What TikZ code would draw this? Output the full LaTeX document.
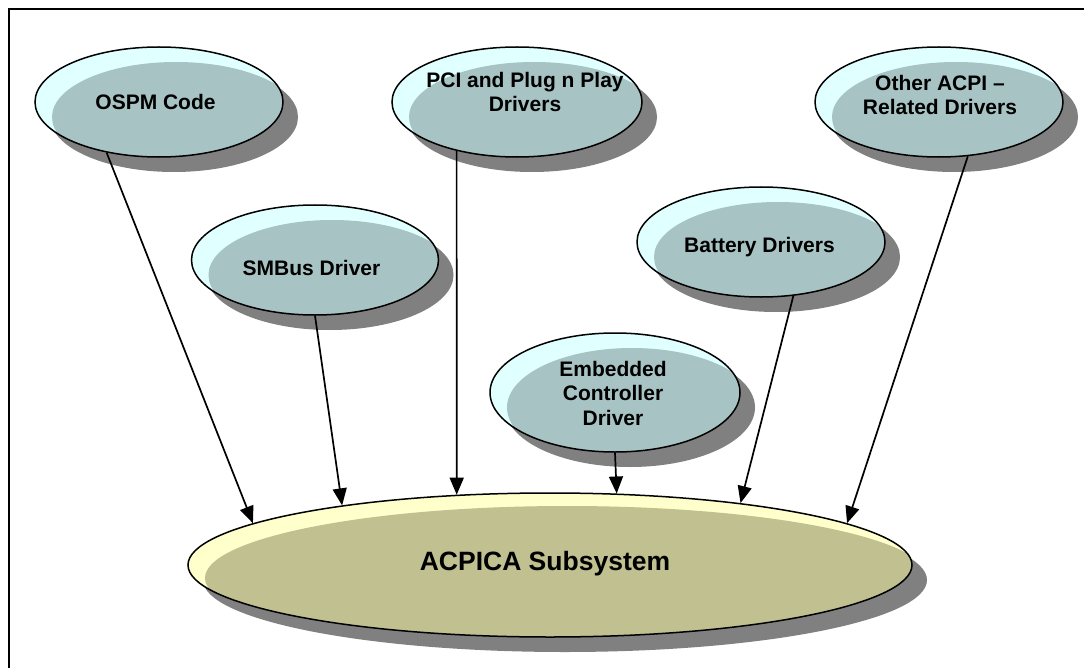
\documentclass[tikz,border=0pt]{standalone}
\usepackage{fontspec}
\setmainfont{Liberation Sans}
\usetikzlibrary{shapes.geometric,shadows,arrows.meta}
\definecolor{cyanl}{RGB}{224,255,255}
\definecolor{tealin}{RGB}{167,195,195}
\definecolor{shad}{RGB}{128,128,128}
\definecolor{yell}{RGB}{255,255,204}
\definecolor{olivein}{RGB}{192,192,144}
\begin{document}
\begin{tikzpicture}[x=1bp,y=-1bp,
  bub/.style 2 args={ellipse, draw=black, line width=1.5bp, inner sep=0pt,
    minimum width=#1, minimum height=#2, fill=cyanl,
    drop shadow={shadow xshift=15bp, shadow yshift=-15bp, fill=shad, draw=none, opacity=1},
    path picture={\fill[tealin] ([xshift=17bp,yshift=-15bp]path picture bounding box.center)
      ellipse [x radius=#1/2, y radius=#2/2];}},
  basebub/.style 2 args={ellipse, draw=black, line width=1.5bp, inner sep=0pt,
    minimum width=#1, minimum height=#2, fill=yell,
    drop shadow={shadow xshift=15bp, shadow yshift=-15bp, fill=shad, draw=none, opacity=1},
    path picture={\fill[olivein] ([xshift=17bp,yshift=-13bp]path picture bounding box.center)
      ellipse [x radius=#1/2, y radius=#2/2];}},
  txt/.style={font=\fontsize{21bp}{24.5bp}\selectfont\bfseries, align=center, inner sep=0pt, anchor=base},
  bigtxt/.style={font=\fontsize{26.5bp}{30bp}\selectfont\bfseries, inner sep=0pt, anchor=base},
  conn/.style={line width=1.7bp, -{Triangle[length=17bp,width=14bp]}},
  frame/.style={line width=2.4bp}
]
\useasboundingbox (0,0) rectangle (1084,668);
\fill[white] (0,0) rectangle (1084,668);
\draw[frame] (9,700) -- (9,9) -- (1100,9);

\node[bub={248bp}{110bp}] (ospm) at (159,102) {};
\node[bub={250bp}{110bp}] (pci) at (517,102) {};
\node[bub={248bp}{110bp}] (other) at (939,102) {};
\node[bub={247bp}{110bp}] (smbus) at (315,260) {};
\node[bub={248bp}{110bp}] (battery) at (761,242) {};
\node[bub={250bp}{119bp}] (embedded) at (615,392.5) {};
\node[basebub={724bp}{144bp}] (acpica) at (550,565) {};

\node[txt] (tospm) at (155.5,110) {OSPM Code};
\node[txt] (tpci) at (525,112) {PCI and Plug n Play\\Drivers};
\node[txt] (tother) at (940,115) {Other ACPI --\\Related Drivers};
\node[txt] (tsmbus) at (311.5,275) {SMBus Driver};
\node[txt] (tbattery) at (759.5,252) {Battery Drivers};
\node[txt] (tembedded) at (613,425) {Embedded\\Controller\\Driver};
\node[bigtxt] (tacpica) at (545,570) {ACPICA Subsystem};

\draw[conn] (ospm.-136) -- (acpica.172);
\draw[conn] (smbus.-90) -- (acpica.164);
\draw[conn] (pci.-141) -- (acpica.143);
\draw[conn] (embedded.-90) -- (acpica.47);
\draw[conn] (battery.-59) -- (acpica.18);
\draw[conn] (other.-62) -- (acpica.8);
\end{tikzpicture}
\end{document}
